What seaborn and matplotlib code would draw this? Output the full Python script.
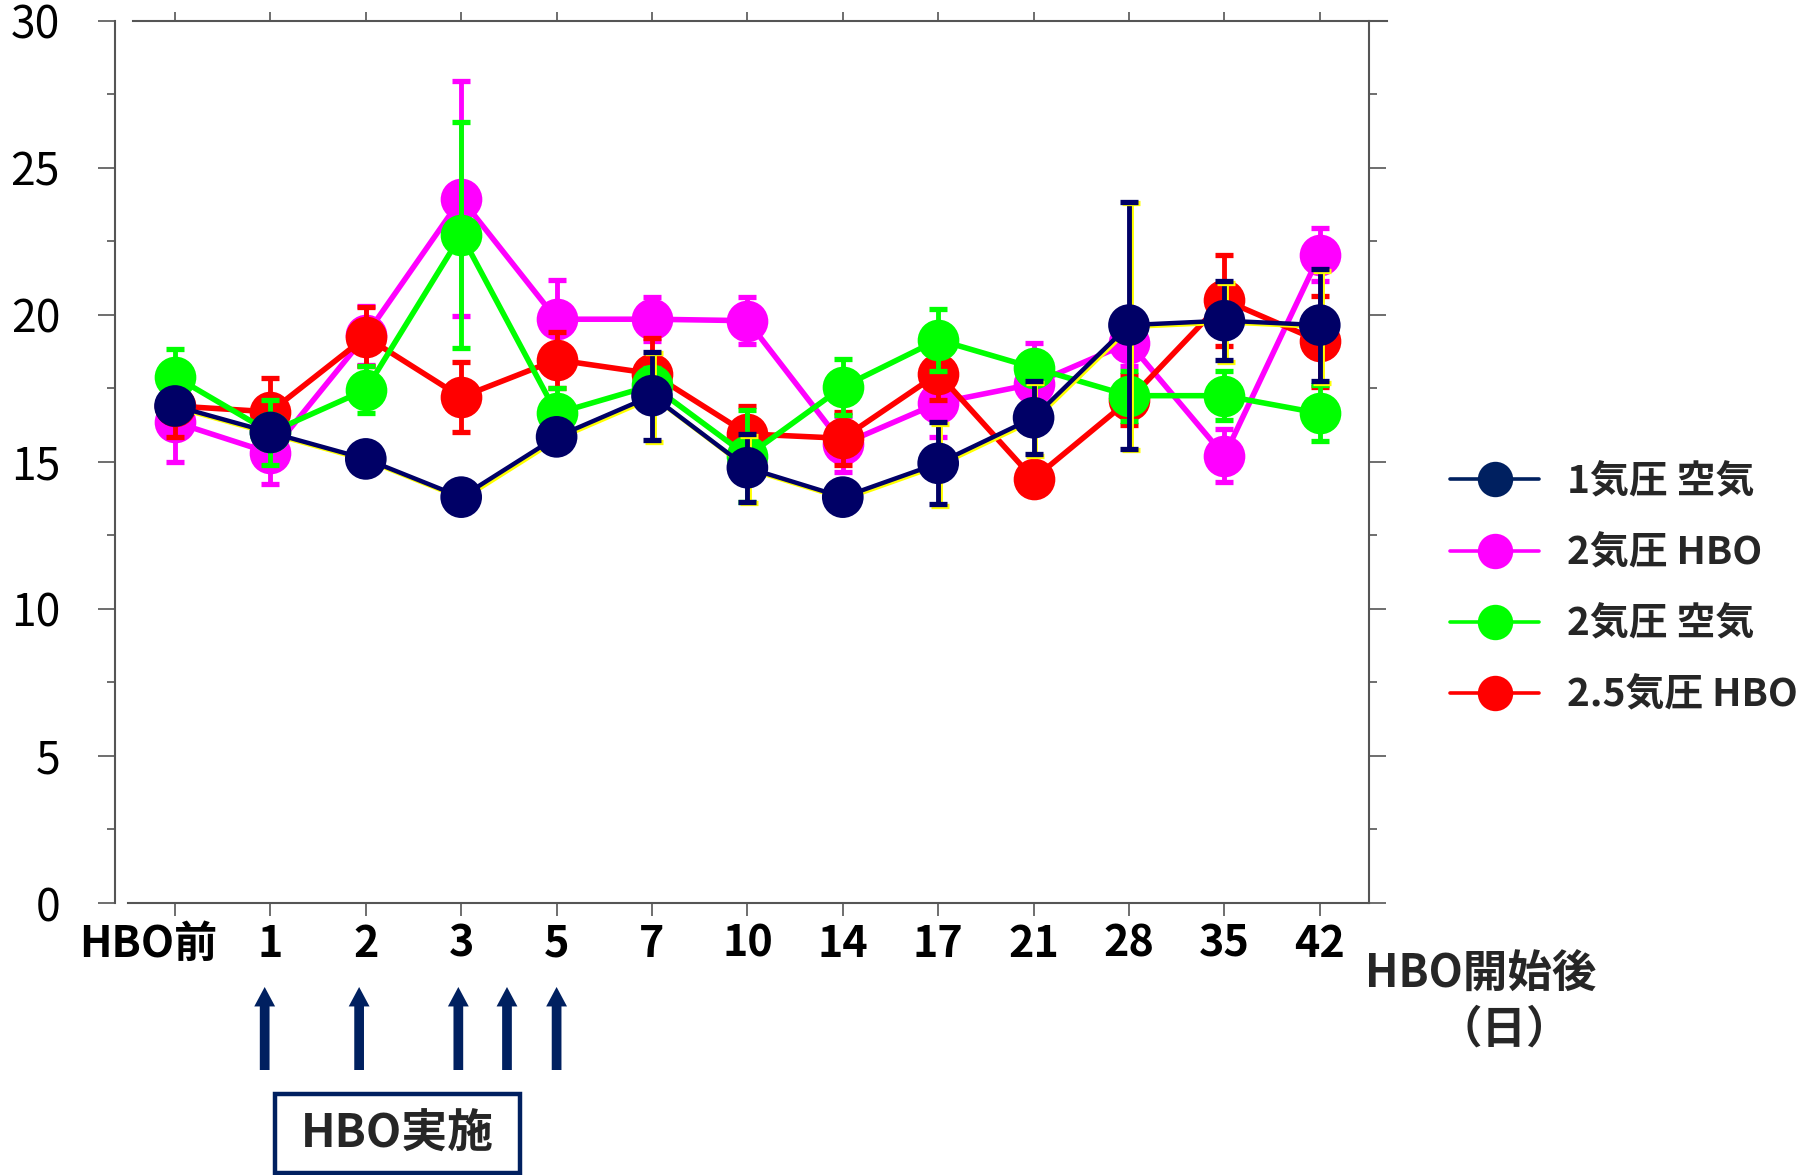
import numpy as np
import pandas as pd
import matplotlib
matplotlib.use('Agg')
import matplotlib.pyplot as plt
import matplotlib.patheffects as pe
import matplotlib.transforms as mtrans
from matplotlib.lines import Line2D
from matplotlib.patches import Rectangle
from matplotlib.ticker import MultipleLocator, NullLocator
import seaborn as sns

# ---------------- data ----------------
categories = ['HBO前', '1', '2', '3', '5', '7', '10', '14', '17', '21', '28', '35', '42']
series_names = ['1気圧 空気', '2気圧 HBO', '2気圧 空気', '2.5気圧 HBO']

air1_mean = [16.9, 16.0, 15.1, 13.8, 15.85, 17.25, 14.8, 13.8, 14.95, 16.5, 19.65, 19.8, 19.65]
air1_sd = [0.3, 0.3, 0.3, 0.3, 0.3, 1.5, 1.15, 0.3, 1.4, 1.25, 4.2, 1.35, 1.9]

hbo2_mean = [16.35, 15.3, 19.3, 23.95, 19.85, 19.85, 19.8, 15.6, 17.0, 17.65, 19.05, 15.2, 22.05]
hbo2_sd = [1.35, 1.05, 1.0, 4.0, 1.35, 0.75, 0.8, 0.95, 1.15, 1.4, 0.8, 0.9, 0.9]

air2_mean = [17.9, 16.0, 17.45, 22.72, 16.65, 17.6, 15.2, 17.55, 19.15, 18.2, 17.25, 17.25, 16.65]
air2_sd = [0.95, 1.1, 0.8, 3.85, 0.85, 0.6, 1.55, 0.95, 1.05, 0.5, 0.85, 0.83, 0.95]

hbo25_mean = [16.9, 16.7, 19.25, 17.2, 18.47, 18.0, 15.95, 15.8, 18.0, 14.42, 17.1, 20.5, 19.1]
hbo25_sd = [1.05, 1.15, 1.0, 1.2, 0.95, 1.2, 0.95, 0.9, 0.9, 0.4, 0.85, 1.55, 1.55]

hbo_session_pos = [0.94, 1.93, 2.97, 3.48, 4.0]   # HBO sessions (days 1-5) on category axis

# ---------------- style ----------------
sns.set_theme(style='white')
plt.rcParams['font.family'] = ['Noto Sans CJK JP', 'DejaVu Sans']

colors = {'1気圧 空気': '#000066', '2気圧 HBO': '#FF00FF',
          '2気圧 空気': '#00FF00', '2.5気圧 HBO': '#FF0000'}
legend_colors = {'1気圧 空気': '#002060', '2気圧 HBO': '#FF00FF',
                 '2気圧 空気': '#00FF00', '2.5気圧 HBO': '#FF0000'}
means = {'1気圧 空気': air1_mean, '2気圧 HBO': hbo2_mean,
         '2気圧 空気': air2_mean, '2.5気圧 HBO': hbo25_mean}
sds = {'1気圧 空気': air1_sd, '2気圧 HBO': hbo2_sd,
       '2気圧 空気': air2_sd, '2.5気圧 HBO': hbo25_sd}

draw_order = ['2気圧 HBO', '2.5気圧 HBO', '2気圧 空気', '1気圧 空気']

pos = np.arange(len(categories))
rows = []
for name in series_names:
    for p, v in zip(pos, means[name]):
        rows.append({'pos': p, 'value': v, 'group': name})
df = pd.DataFrame(rows)

W, H = 1814, 1175
fig = plt.figure(figsize=(W / 100, H / 100), dpi=100)
ax = fig.add_axes([115 / W, 1 - 903 / H, (1369 - 115) / W, (903 - 20.7) / H])

sns.lineplot(data=df, x='pos', y='value', hue='group', hue_order=draw_order,
             palette=colors, marker='o', markersize=30, markeredgewidth=0,
             linewidth=4.0, sort=False, legend=False, errorbar=None, ax=ax)

shadow = [pe.SimpleLineShadow(offset=(1.3, -1.3), shadow_color='#FFFF00', alpha=1.0), pe.Normal()]

for i, (name, line) in enumerate(zip(draw_order, ax.lines)):
    line.set_zorder(3 + 2 * i)
    line.set_clip_on(False)
    if name == '1気圧 空気':
        line.set_linewidth(3.2)
        line.set_path_effects(shadow)
    eb = ax.errorbar(pos, means[name], yerr=sds[name], fmt='none', ecolor=colors[name],
                     elinewidth=3.5, capsize=6.5, capthick=3.8, zorder=2 + 2 * i)
    if name == '1気圧 空気':
        for art in list(eb[1]) + list(eb[2]):
            art.set_path_effects(shadow)

# ---------------- axes ----------------
ax.set_xlim(-0.629, 12.516)
ax.set_ylim(0, 30)
ax.set_xlabel('')
ax.set_ylabel('')
for s in ax.spines.values():
    s.set_visible(True)
    s.set_color('#555555')
    s.set_linewidth(1.5)
ax.spines['bottom'].set_bounds(-0.49, 12.516)
ax.spines['top'].set_bounds(-0.44, 12.70)

ax.yaxis.set_major_locator(MultipleLocator(5))
ax.yaxis.set_minor_locator(MultipleLocator(2.5))
ax.tick_params(axis='y', which='major', direction='out', length=12.5, width=1.2,
               color='#555555', left=True, right=True, labelleft=True, labelright=False,
               pad=27, labelsize=32, labelcolor='black')
ax.tick_params(axis='y', which='minor', direction='out', length=6, width=1.2,
               color='#555555', left=True, right=True)

ax.set_xticks(pos)
ax.set_xticklabels(categories)
ax.xaxis.set_minor_locator(NullLocator())
ax.tick_params(axis='x', which='major', direction='out', length=9.5, width=1.2,
               color='#555555', bottom=True, top=True, labelbottom=True, labeltop=False,
               pad=4, labelsize=31, labelcolor='black')
for t in ax.xaxis.get_major_ticks():
    t.tick2line.set_markersize(6.5)
for lab in ax.get_xticklabels():
    lab.set_fontweight('bold')
first = ax.get_xticklabels()[0]
first.set_transform(first.get_transform() + mtrans.ScaledTranslation(-0.27, 0, fig.dpi_scale_trans))

# x-axis title
fig.text(1481 / W, 1 - 975 / H, 'HBO開始後', ha='center', va='center',
         fontsize=32, fontweight='bold')
fig.text(1504 / W, 1 - 1030 / H, '（日）', ha='center', va='center',
         fontsize=32, fontweight='bold')

# ---------------- legend ----------------
handles = [Line2D([0], [0], color=legend_colors[n], lw=2.6, marker='o', markersize=25.5,
                  markeredgewidth=0) for n in series_names]
leg = fig.legend(handles, series_names, loc='upper left',
                 bbox_to_anchor=(1450 / W, 1 - 462 / H), bbox_transform=fig.transFigure,
                 frameon=False, borderpad=0, borderaxespad=0, handlelength=2.3,
                 handletextpad=0.7, labelspacing=0.83,
                 prop={'family': ['Noto Sans CJK JP', 'DejaVu Sans'], 'weight': 'bold', 'size': 28})

# ---------------- HBO session arrows ----------------
trans = mtrans.blended_transform_factory(ax.transData, fig.transFigure)
for xp in hbo_session_pos:
    ax.annotate('', xy=(xp, 1 - 987 / H), xytext=(xp, 1 - 1070 / H),
                xycoords=trans, textcoords=trans, annotation_clip=False,
                arrowprops=dict(width=7, headwidth=15, headlength=14, shrink=0,
                                color='#002060', linewidth=0))

fig.patches.append(Rectangle((275 / W, 2 / H), 245 / W, 79 / H, transform=fig.transFigure,
                             fill=False, edgecolor='#002060', linewidth=3.2, figure=fig))
fig.text(397.5 / W, 1 - 1135 / H, 'HBO実施', ha='center', va='center',
         fontsize=33, fontweight='bold')

fig.savefig('out.png', dpi=100, facecolor='white')
